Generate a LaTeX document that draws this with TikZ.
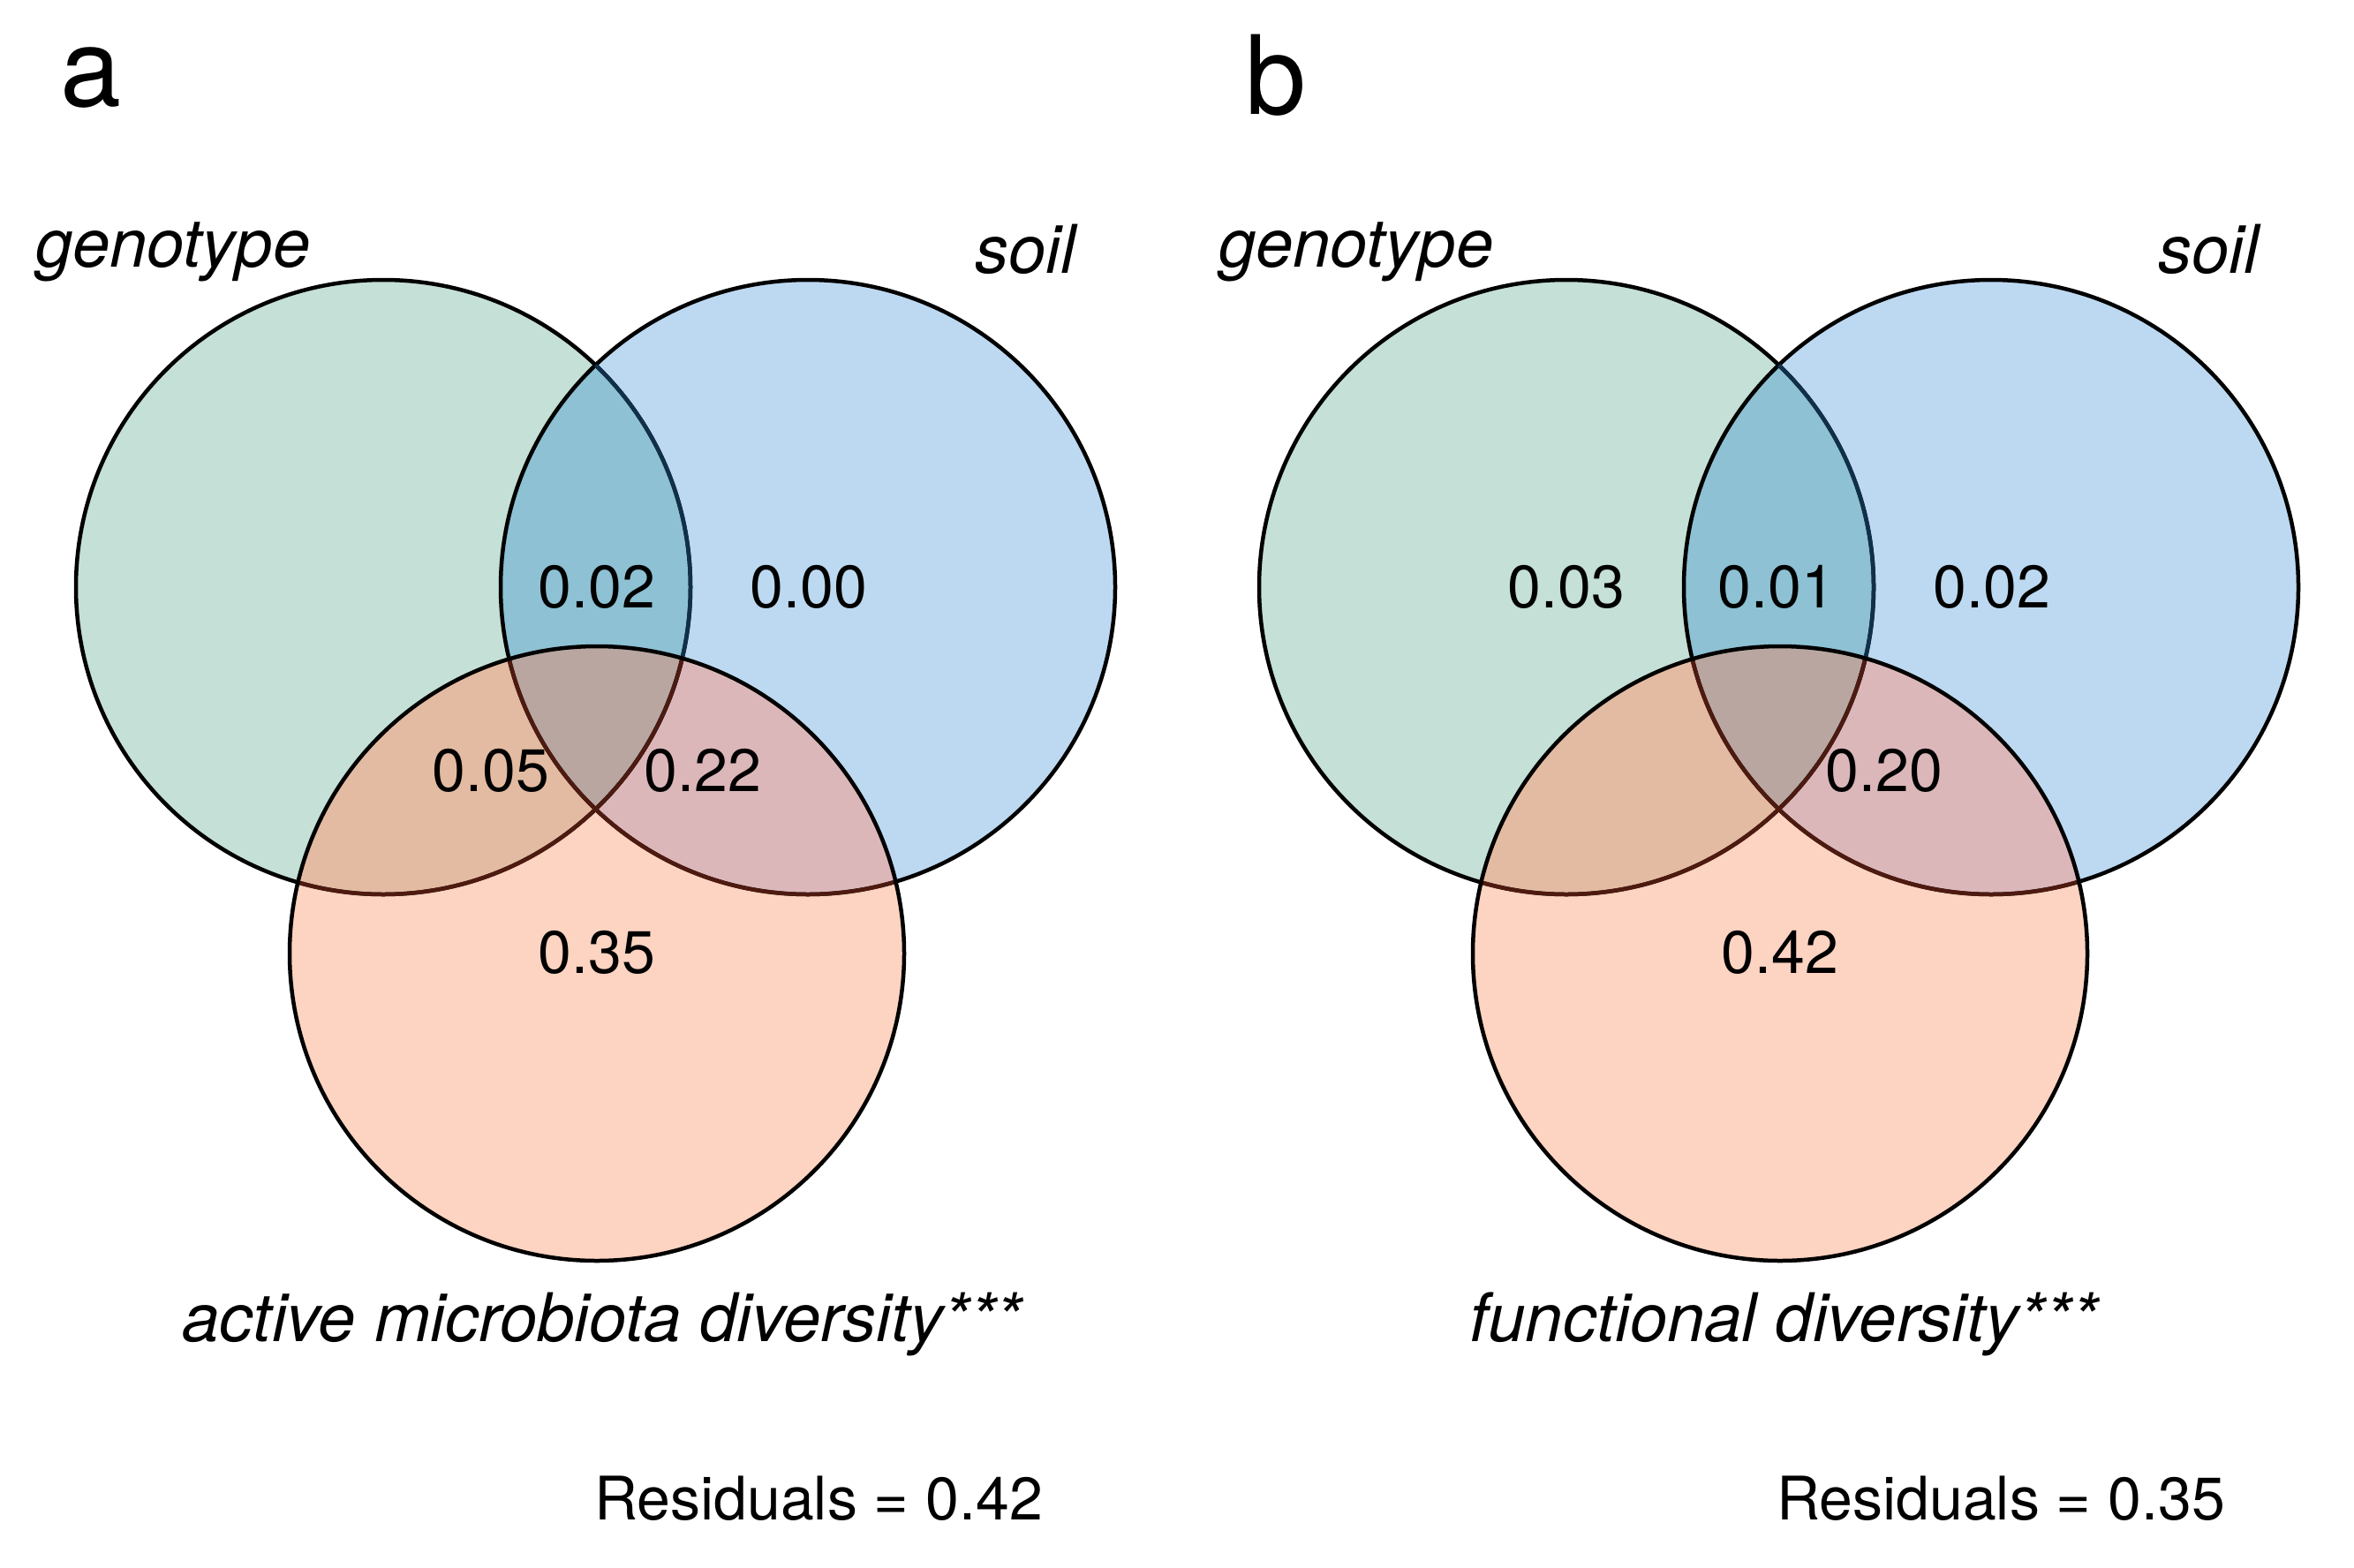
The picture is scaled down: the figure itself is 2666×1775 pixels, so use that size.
\documentclass[tikz,border=0pt]{standalone}
\usepackage{fontspec}
\setmainfont{TeX Gyre Heros}
\definecolor{genofill}{HTML}{C5E0D6}
\definecolor{soilfill}{HTML}{BDD9F1}
\definecolor{divfill}{HTML}{FDD3C1}
\definecolor{gsfill}{HTML}{8DC1D3}
\definecolor{gdfill}{HTML}{E3BBA2}
\definecolor{sdfill}{HTML}{DCB7BA}
\definecolor{allfill}{HTML}{B9A6A0}
\definecolor{navyline}{HTML}{10304A}
\definecolor{brownline}{HTML}{4E1A10}
\tikzset{
  num/.style={anchor=base, font=\fontsize{68}{80}\selectfont},
  cat/.style={anchor=base, font=\fontsize{76}{90}\selectfont\itshape},
  panel/.style={anchor=base west, inner sep=0pt, font=\fontsize{124}{140}\selectfont},
  rim/.style={line width=4.5pt}
}
\begin{document}
\begin{tikzpicture}[x=1pt, y=-1pt]
          \useasboundingbox (0,0) rectangle (2666,1775);
          % the two venn diagrams
          \foreach \dx in {0,1340}{
              \begin{scope}[xshift=\dx]
                  \fill[genofill] (434,665) circle (348);
                  \fill[soilfill] (915,665) circle (348);
                  \fill[divfill] (676,1080) circle (348);
                  \begin{scope}
                      \clip (915,665) circle (348);
                      \fill[sdfill] (676,1080) circle (348);
                  \end{scope}
                  \begin{scope}
                      \clip (434,665) circle (348);
                      \fill[gsfill] (915,665) circle (348);
                      \fill[gdfill] (676,1080) circle (348);
                      \clip (915,665) circle (348);
                      \fill[allfill] (676,1080) circle (348);
                  \end{scope}
                  \draw[rim] (434,665) circle (348);
                  \draw[rim] (915,665) circle (348);
                  \begin{scope}
                      \clip (915,665) circle (348);
                      \draw[rim, navyline] (434,665) circle (348);
                  \end{scope}
                  \begin{scope}
                      \clip (676,1080) circle (348);
                      \draw[rim, brownline] (434,665) circle (348);
                      \draw[rim, brownline] (915,665) circle (348);
                  \end{scope}
                  \draw[rim] (676,1080) circle (348);
              \end{scope}
          }
          % panel a
          \node[panel] (pa) at (68,120) {a};
          \node[cat] (genoa) at (196,302) {genotype};
          \node[cat] (soila) at (1161,309) {soil};
          \node[num] (gsa) at (676,688) {0.02};
          \node[num] (sa) at (916,688) {0.00};
          \node[num] (gda) at (556,896) {0.05};
          \node[num] (sda) at (796,896) {0.22};
          \node[num] (da) at (676,1102) {0.35};
          \node[cat] (diva) at (682,1519) {active microbiota diversity***};
          \node[num] (resa) at (927,1721) {Residuals = 0.42};
          % panel b
          \node[panel] (pb) at (1410,129) {b};
          \node[cat] (genob) at (1536,302) {genotype};
          \node[cat] (soilb) at (2501,309) {soil};
          \node[num] (gb) at (1774,688) {0.03};
          \node[num] (gsb) at (2012,688) {0.01};
          \node[num] (sb) at (2256,688) {0.02};
          \node[num] (sdb) at (2134,896) {0.20};
          \node[num] (db) at (2016,1102) {0.42};
          \node[cat] (divb) at (2020,1519) {functional diversity***};
          \node[num] (resb) at (2266,1721) {Residuals = 0.35};
\end{tikzpicture}
\end{document}
